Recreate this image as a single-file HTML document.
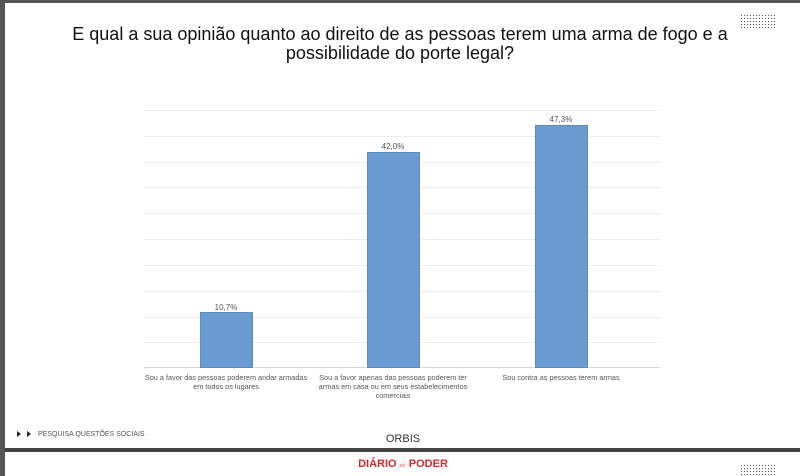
<!DOCTYPE html>
<html><head><meta charset="utf-8"><style>
body{margin:0;width:800px;height:476px;overflow:hidden;background:#fff;font-family:"Liberation Sans",sans-serif;position:relative}
.t{position:absolute;left:0;width:800px;text-align:center;font-size:18px;color:#111;line-height:20px}
</style></head><body>
<div style="position:absolute;left:0;top:0;width:800px;height:3px;background:#555"></div>
<div style="position:absolute;left:0;top:0;width:5px;height:476px;background:#555"></div>
<div style="position:absolute;left:5px;top:448px;width:795px;height:4px;background:#444"></div>
<div class="t" style="top:24px">E qual a sua opinião quanto ao direito de as pessoas terem uma arma de fogo e a</div>
<div class="t" style="top:43px">possibilidade do porte legal?</div>
<svg width="800" height="476" style="position:absolute;left:0;top:0">
<defs><pattern id="d" width="3" height="3" patternUnits="userSpaceOnUse"><rect width="1" height="1" fill="#555"/></pattern></defs>
<rect x="741" y="14" width="36" height="14" fill="url(#d)"/>
<rect x="741" y="464" width="36" height="12" fill="url(#d)"/>
<g stroke="#ececec" stroke-width="1">
<line x1="144" x2="660" y1="110.5" y2="110.5"/><line x1="144" x2="660" y1="136.5" y2="136.5"/>
<line x1="144" x2="660" y1="162.5" y2="162.5"/><line x1="144" x2="660" y1="187.5" y2="187.5"/>
<line x1="144" x2="660" y1="213.5" y2="213.5"/><line x1="144" x2="660" y1="239.5" y2="239.5"/>
<line x1="144" x2="660" y1="265.5" y2="265.5"/><line x1="144" x2="660" y1="291.5" y2="291.5"/>
<line x1="144" x2="660" y1="317.5" y2="317.5"/><line x1="144" x2="660" y1="342.5" y2="342.5"/>
</g>
<line x1="144" x2="660" y1="367.5" y2="367.5" stroke="#d9d9d9"/>
<g fill="#6a9bd0" stroke="#5b8cc4">
<rect x="200.5" y="312.5" width="52" height="55"/>
<rect x="367.5" y="152.5" width="52" height="215"/>
<rect x="535.5" y="125.5" width="52" height="242"/>
</g>
<g font-size="7.3" fill="#555" text-anchor="middle" font-family="Liberation Sans, sans-serif">
<text x="226" y="310" font-size="8">10,7%</text><text x="393" y="149" font-size="8">42,0%</text><text x="561" y="122" font-size="8">47,3%</text>
<text x="226" y="380">Sou a favor das pessoas poderem andar armadas</text>
<text x="226" y="389">em todos os lugares</text>
<text x="393" y="380">Sou a favor apenas das pessoas poderem ter</text>
<text x="393" y="389">armas em casa ou em seus estabelecimentos</text>
<text x="393" y="398">comerciais</text>
<text x="561" y="380">Sou contra as pessoas terem armas</text>
</g>
<polygon points="17,431 17,437 21,434" fill="#222"/><polygon points="27,431 27,437 31,434" fill="#222"/>
<text x="38" y="436" font-size="7" fill="#555">PESQUISA QUESTÕES SOCIAIS</text>
<text x="403" y="442" font-size="11" fill="#333" text-anchor="middle">ORBIS</text>
<text x="403" y="467" font-size="11" fill="#d32b2b" text-anchor="middle" font-weight="bold">DIÁRIO <tspan font-size="5" fill="#e88">do</tspan> PODER</text>
</svg>
</body></html>
